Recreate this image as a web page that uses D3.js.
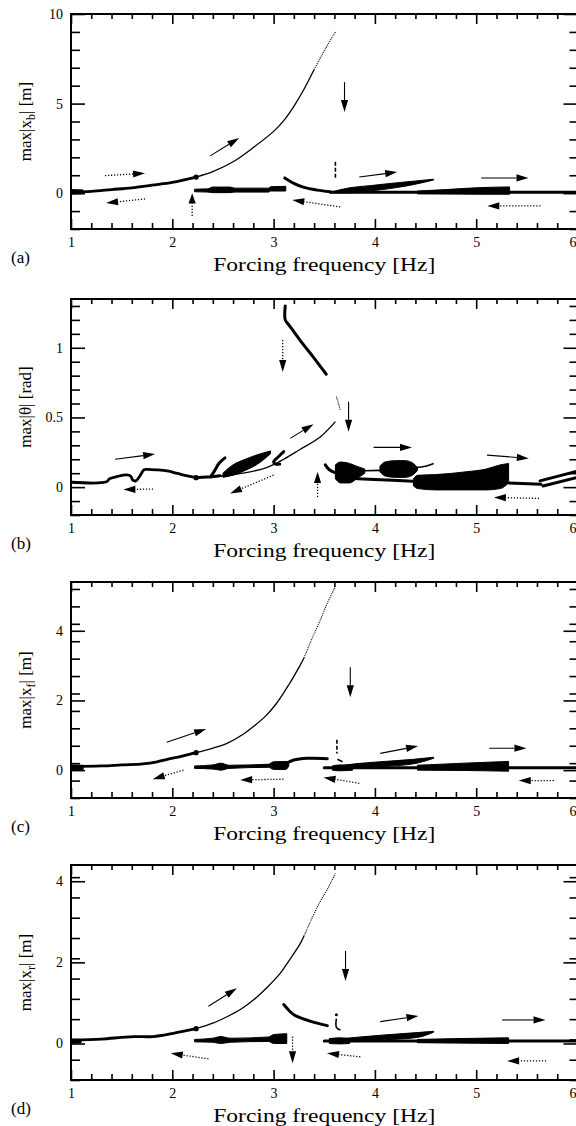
<!DOCTYPE html>
<html>
<head>
<meta charset="utf-8">
<script src="https://cdn.jsdelivr.net/npm/d3@7"></script>
<style>
  html, body { margin: 0; padding: 0; background: #fff; }
  svg { display: block; }
  text { font-family: "Liberation Serif", "Times New Roman", Times, serif; }
</style>
</head>
<body>
<svg id="chart" width="576" height="1126"></svg>
<script>
const SERIF = '"Liberation Serif", "Times New Roman", Times, serif';

// ─── shared x axis ────────────────────────────────────────────────────────────
const freqMajor = [1, 2, 3, 4, 5, 6];
const freqMinorStep = 0.2;
const xLabel = 'Forcing  frequency  [Hz]';

// ─── (a) max|x_b| [m] ─────────────────────────────────────────────────────────
const aTicks     = [0, 5, 10];
const aResLow    = [[1.0,0.05],[1.2,0.1],[1.4,0.2],[1.6,0.3],[1.8,0.45],[2.0,0.6],[2.235,0.9]];
const aResHigh   = [[2.235,0.9],[2.4,1.2],[2.6,1.75],[2.8,2.55],[3.0,3.45],[3.1,4.05],[3.2,4.85],[3.3,5.8],[3.4,6.9]];
const aResUnst   = [[3.4,6.9],[3.5,7.95],[3.61,9.0]];
const aUpper     = [[3.11,0.85],[3.2,0.55],[3.3,0.32],[3.43,0.17],[3.56,0.08]];
const aBase      = [[3.56,0.05],[6.0,0.05]];
const aStartBand = [[1.0,-0.05,0.2],[1.12,-0.03,0.18]];
const aLowBand   = [[2.22,0.08,0.22],[2.35,0.06,0.24],[2.4,0.03,0.34],[2.57,0.03,0.34],[2.62,0.06,0.28],[2.95,0.06,0.28],[2.97,0.12,0.36],[3.12,0.12,0.38]];
const aWedge     = [[3.58,0.02,0.08],[3.75,0.02,0.3],[3.95,0.12,0.42],[4.2,0.3,0.57],[4.4,0.5,0.68],[4.58,0.74,0.78]];
const aBand      = [[4.42,-0.04,0.12],[4.7,-0.05,0.2],[5.0,-0.06,0.3],[5.33,-0.06,0.35]];
const aSpike     = [[3.61,1.75],[3.61,0.75]];
const aFwd = [[2.374,2.08,2.66,3.08],[3.70,6.2,3.70,4.53],[3.846,0.9,4.22,1.18],[5.05,0.85,5.516,0.85]];
const aBwd = [[1.336,0.98,1.731,1.11],[1.731,-0.32,1.346,-0.55],[2.196,-1.27,2.196,0.0],[3.658,-0.77,3.184,-0.38],[5.634,-0.71,5.11,-0.71]];

// ─── (b) max|θ| [rad] ─────────────────────────────────────────────────────────
const bTicks   = [0, 0.5, 1];
const bPath    = [[1.0,0.035],[1.35,0.038],[1.38,0.06],[1.45,0.075],[1.55,0.088],[1.59,0.078],[1.61,0.05],[1.64,0.045],[1.68,0.08],[1.72,0.125],[1.75,0.128],[1.85,0.124],[1.95,0.116],[2.05,0.098],[2.15,0.08],[2.235,0.068]];
const bPath2   = [[2.235,0.068],[2.34,0.072],[2.47,0.082]];
const bResHigh = [[2.235,0.068],[2.47,0.078],[2.7,0.1],[2.93,0.14],[3.1,0.2],[3.26,0.27],[3.46,0.36],[3.61,0.47]];
const bResUnst = [[3.62,0.65],[3.64,0.6],[3.66,0.55]];
const bHook1   = [[2.38,0.075],[2.42,0.12],[2.46,0.17],[2.52,0.21]];
const bWedge   = [[2.5,0.07,0.1],[2.6,0.086,0.16],[2.72,0.12,0.2],[2.83,0.16,0.23],[2.97,0.24,0.26]];
const bHook2   = [[3.1,0.255],[3.05,0.22],[3.0,0.18],[3.02,0.165],[3.06,0.165]];
const bUpper   = [[3.115,1.3],[3.115,1.2],[3.15,1.165],[3.26,1.055],[3.39,0.935],[3.52,0.81]];
const bLead    = [[3.51,0.16],[3.55,0.125],[3.62,0.1]];
const bBlob1   = [[3.61,0.06,0.16],[3.66,0.03,0.18],[3.75,0.03,0.17],[3.82,0.06,0.15],[3.9,0.1,0.13]];
const bLink    = [[3.9,0.118],[4.05,0.12]];
const bBlob2   = [[4.05,0.11,0.15],[4.1,0.08,0.18],[4.2,0.07,0.19],[4.3,0.07,0.19],[4.38,0.09,0.17],[4.42,0.12,0.14]];
const bTail    = [[4.4,0.14],[4.5,0.15],[4.58,0.17]];
const bFloor   = [[3.7,0.065],[4.0,0.055],[4.42,0.04]];
const bBand    = [[4.38,0.01,0.06],[4.42,-0.01,0.085],[4.6,-0.02,0.09],[4.9,-0.02,0.11],[5.1,-0.02,0.13],[5.24,-0.01,0.16],[5.32,0.03,0.17]];
const bTrail   = [[5.32,0.03],[5.64,0.02]];
const bRise1   = [[5.63,0.045],[6.0,0.115]];
const bRise2   = [[5.66,0.008],[6.0,0.07]];
const bFwd = [[1.435,0.2,1.83,0.237],[3.164,0.35,3.394,0.452],[3.74,0.612,3.74,0.397],[3.987,0.285,4.366,0.285],[5.107,0.23,5.519,0.206]];
const bBwd = [[1.81,-0.014,1.517,-0.017],[3.09,1.055,3.09,0.827],[3.0,0.086,2.57,-0.045],[3.434,-0.07,3.434,0.11],[5.62,-0.081,5.175,-0.074]];

// ─── (c) max|x_f| [m] ─────────────────────────────────────────────────────────
const cTicks     = [0, 2, 4];
const cResLow    = [[1.0,0.1],[1.3,0.12],[1.5,0.15],[1.71,0.18],[1.85,0.24],[1.95,0.31],[2.1,0.4],[2.235,0.5]];
const cResHigh   = [[2.235,0.5],[2.4,0.63],[2.54,0.77],[2.7,1.03],[2.8,1.25],[2.92,1.55],[3.03,1.92],[3.15,2.45],[3.26,3.0],[3.3,3.22]];
const cResUnst   = [[3.3,3.22],[3.39,3.85],[3.46,4.3],[3.53,4.79],[3.61,5.27]];
const cStartBand = [[1.0,0.0,0.15],[1.12,0.02,0.14]];
const cLowBand   = [[2.22,0.05,0.12],[2.4,0.03,0.15],[2.48,0.0,0.2],[2.56,0.05,0.14],[2.95,0.08,0.17],[3.0,0.02,0.24],[3.12,0.02,0.25],[3.15,0.12,0.22]];
const cRise      = [[3.13,0.2],[3.2,0.29],[3.33,0.34],[3.53,0.33]];
const cSpike     = [[3.625,0.87],[3.625,0.48]];
const cDash      = [[3.63,0.31],[3.68,0.24]];
const cBase      = [[3.5,0.07],[6.0,0.07]];
const cBlob      = [[3.58,0.0,0.12],[3.65,-0.02,0.15],[3.78,0.0,0.13]];
const cWedge     = [[3.6,0.05,0.1],[3.8,0.05,0.18],[4.05,0.1,0.24],[4.38,0.18,0.31],[4.58,0.34,0.37]];
const cBand      = [[4.42,0.0,0.14],[4.88,-0.01,0.2],[5.32,-0.03,0.25]];
const cFwd = [[1.945,0.8,2.334,1.18],[3.757,2.95,3.757,2.09],[4.053,0.48,4.426,0.69],[5.13,0.63,5.496,0.63]];
const cBwd = [[2.11,0.0,1.807,-0.26],[3.098,-0.26,2.67,-0.28],[3.846,-0.38,3.493,-0.21],[5.766,-0.3,5.42,-0.3]];

// ─── (d) max|x_r| [m] ─────────────────────────────────────────────────────────
const dTicks     = [0, 2, 4];
const dResLow    = [[1.0,0.09],[1.3,0.11],[1.5,0.15],[1.62,0.17],[1.81,0.17],[2.01,0.25],[2.235,0.365]];
const dResHigh   = [[2.235,0.365],[2.4,0.5],[2.54,0.66],[2.68,0.85],[2.8,1.07],[2.93,1.37],[3.065,1.73],[3.16,2.07],[3.26,2.45],[3.3,2.65]];
const dResUnst   = [[3.3,2.65],[3.39,3.15],[3.46,3.5],[3.53,3.8],[3.61,4.19]];
const dStartBand = [[1.0,0.0,0.1],[1.1,0.02,0.1]];
const dLowBand   = [[2.22,0.04,0.1],[2.4,0.03,0.13],[2.48,0.0,0.17],[2.57,0.03,0.13],[2.95,0.05,0.16],[3.0,0.0,0.22],[3.13,0.0,0.24]];
const dUpper     = [[3.1,0.96],[3.15,0.82],[3.2,0.71],[3.36,0.55],[3.53,0.44]];
const dSpike     = [[3.62,0.61],[3.62,0.4],[3.66,0.33]];
const dSpikeDot  = [[3.62,0.71]];
const dBase      = [[3.5,0.06],[6.0,0.06]];
const dBlob      = [[3.55,0.0,0.12],[3.65,-0.01,0.14],[3.75,0.0,0.12]];
const dWedge     = [[3.6,0.04,0.1],[3.85,0.05,0.16],[4.09,0.09,0.21],[4.42,0.15,0.27],[4.58,0.28,0.3]];
const dBand      = [[4.42,0.02,0.1],[4.8,0.01,0.12],[5.32,0.0,0.14]];
const dFwd = [[2.357,0.92,2.637,1.36],[3.71,2.28,3.71,1.54],[4.053,0.54,4.43,0.68],[5.256,0.58,5.684,0.58]];
const dBwd = [[2.357,-0.38,1.985,-0.24],[3.187,0.17,3.187,-0.49],[3.856,-0.33,3.527,-0.24],[5.69,-0.43,5.305,-0.43]];

// ─── layout table built from the arrays ───────────────────────────────────────
const X_LEFT = 71, X_RIGHT = 577.5, VIEW_W = 576;
const panels = [
  { tag: '(a)', top: 14,  bottom: 229,  yDomain: [-2, 10],    yMajor: aTicks, yStep: 1,
    yLabel: ['max|x', 'b', '|  [m]'],
    resLow: aResLow, resHigh: aResHigh, resUnst: aResUnst,
    thick: [aUpper, aBase], medium: [], bands: [aStartBand, aLowBand, aWedge, aBand],
    spikes: [aSpike], dots: [], fwd: aFwd, bwd: aBwd },
  { tag: '(b)', top: 299, bottom: 515,  yDomain: [-0.2, 1.35], yMajor: bTicks, yStep: 0.1,
    yLabel: ['max|θ|  [rad]'],
    resLow: bPath, resHigh: bResHigh, resUnst: bResUnst,
    thick: [bPath2, bHook1, bHook2, bUpper, bLead, bFloor, bTrail, bRise1, bRise2], medium: [bLink, bTail],
    bands: [bWedge, bBlob1, bBlob2, bBand],
    spikes: [], dots: [], fwd: bFwd, bwd: bBwd },
  { tag: '(c)', top: 582, bottom: 798,  yDomain: [-0.8, 5.4], yMajor: cTicks, yStep: 0.5,
    yLabel: ['max|x', 'f', '|  [m]'],
    resLow: cResLow, resHigh: cResHigh, resUnst: cResUnst,
    thick: [cRise, cBase], medium: [cDash], bands: [cStartBand, cLowBand, cBlob, cWedge, cBand],
    spikes: [cSpike], dots: [], fwd: cFwd, bwd: cBwd },
  { tag: '(d)', top: 865, bottom: 1080, yDomain: [-0.9, 4.4], yMajor: dTicks, yStep: 0.5,
    yLabel: ['max|x', 'r', '|  [m]'],
    resLow: dResLow, resHigh: dResHigh, resUnst: dResUnst,
    thick: [dUpper, dBase], medium: [dSpike], bands: [dStartBand, dLowBand, dBlob, dWedge, dBand],
    spikes: [], dots: dSpikeDot, fwd: dFwd, bwd: dBwd }
];

const svg = d3.select('#chart');
const x = d3.scaleLinear().domain([1, 6]).range([X_LEFT, X_RIGHT]);
const round3 = v => Math.round(v * 1000) / 1000;
const xMinor = d3.range(1, 6.0001, freqMinorStep).map(round3).filter(v => !freqMajor.includes(v));

function drawArrow(g, x1, y1, x2, y2, dotted) {
  const dx = x2 - x1, dy = y2 - y1, L = Math.hypot(dx, dy);
  const ux = dx / L, uy = dy / L;
  const hl = Math.min(12, L * 0.45), hw = 3.6;
  const bx = x2 - ux * hl, by = y2 - uy * hl;
  g.append('line')
    .attr('x1', x1).attr('y1', y1).attr('x2', bx).attr('y2', by)
    .attr('stroke', '#000').attr('stroke-width', dotted ? 1.3 : 1.1)
    .attr('stroke-dasharray', dotted ? '1.2,1.8' : null);
  g.append('path')
    .attr('d', `M${x2},${y2}L${bx - uy * hw},${by + ux * hw}L${bx + uy * hw},${by - ux * hw}Z`)
    .attr('fill', '#000');
}

panels.forEach((p, i) => {
  const y = d3.scaleLinear().domain(p.yDomain).range([p.bottom, p.top]);
  const yMinor = d3.range(p.yDomain[0], p.yDomain[1] + 1e-6, p.yStep).map(round3)
    .filter(v => !p.yMajor.includes(v));
  const g = svg.append('g').attr('class', 'panel');

  const clipId = 'clip-' + i;
  g.append('clipPath').attr('id', clipId).append('rect')
    .attr('x', X_LEFT).attr('y', p.top).attr('width', X_RIGHT - X_LEFT).attr('height', p.bottom - p.top);
  const plot = g.append('g').attr('clip-path', `url(#${clipId})`);

  const line = d3.line().x(d => x(d[0])).y(d => y(d[1])).curve(d3.curveCatmullRom);
  const area = d3.area().x(d => x(d[0])).y0(d => y(d[1])).y1(d => y(d[2])).curve(d3.curveMonotoneX);

  // filled bands of dense maxima
  p.bands.forEach(b => plot.append('path').attr('d', area(b)).attr('fill', '#000')
    .attr('stroke', '#000').attr('stroke-width', 1).attr('stroke-linejoin', 'round'));

  // resonance branch: thick stable part, thin part, dotted tail
  plot.append('path').attr('d', line(p.resLow)).attr('fill', 'none')
    .attr('stroke', '#000').attr('stroke-width', 2.8).attr('stroke-linecap', 'round');
  plot.append('path').attr('d', line(p.resHigh)).attr('fill', 'none')
    .attr('stroke', '#000').attr('stroke-width', 1.3);
  plot.append('path').attr('d', line(p.resUnst)).attr('fill', 'none')
    .attr('stroke', '#000').attr('stroke-width', 1.2).attr('stroke-dasharray', '1,1.1');
  const bif = p.resLow[p.resLow.length - 1];
  plot.append('circle').attr('cx', x(bif[0])).attr('cy', y(bif[1])).attr('r', 2.6).attr('fill', '#000');

  p.thick.forEach(s => plot.append('path').attr('d', line(s)).attr('fill', 'none')
    .attr('stroke', '#000').attr('stroke-width', 3).attr('stroke-linecap', 'round'));
  p.medium.forEach(s => plot.append('path').attr('d', line(s)).attr('fill', 'none')
    .attr('stroke', '#000').attr('stroke-width', 1.6));
  p.spikes.forEach(s => plot.append('path').attr('d', line(s)).attr('fill', 'none')
    .attr('stroke', '#000').attr('stroke-width', 1.6).attr('stroke-dasharray', '4,2'));
  p.dots.forEach(d => plot.append('circle').attr('cx', x(d[0])).attr('cy', y(d[1])).attr('r', 1.5).attr('fill', '#000'));

  // sweep arrows: solid = increasing frequency, dotted = decreasing
  p.fwd.forEach(a => drawArrow(plot, x(a[0]), y(a[1]), x(a[2]), y(a[3]), false));
  p.bwd.forEach(a => drawArrow(plot, x(a[0]), y(a[1]), x(a[2]), y(a[3]), true));

  // axes (inward ticks on all four sides)
  const styleAxis = sel => {
    sel.select('.domain').remove();
    sel.selectAll('line').attr('stroke-width', 1.6);
    sel.attr('font-family', SERIF).attr('font-size', 14);
  };
  const bottomAxis = g.append('g').attr('transform', `translate(0,${p.bottom})`)
    .call(d3.axisBottom(x).tickValues(freqMajor).tickSize(-10).tickSizeOuter(0).tickPadding(8).tickFormat(d3.format('d')))
    .call(styleAxis);
  // the last label sits on the page edge: keep it inside the view
  bottomAxis.selectAll('.tick text').filter(d => x(d) + 4 > VIEW_W)
    .attr('text-anchor', 'end').attr('x', VIEW_W - x(6));
  g.append('g').attr('transform', `translate(0,${p.bottom})`)
    .call(d3.axisBottom(x).tickValues(xMinor).tickSize(-6).tickSizeOuter(0).tickFormat(''))
    .call(styleAxis);
  g.append('g').attr('transform', `translate(0,${p.top})`)
    .call(d3.axisTop(x).tickValues(freqMajor).tickSize(-10).tickSizeOuter(0).tickFormat(''))
    .call(styleAxis);
  g.append('g').attr('transform', `translate(0,${p.top})`)
    .call(d3.axisTop(x).tickValues(xMinor).tickSize(-5).tickSizeOuter(0).tickFormat(''))
    .call(styleAxis);
  g.append('g').attr('transform', `translate(${X_LEFT},0)`)
    .call(d3.axisLeft(y).tickValues(p.yMajor).tickSize(-14).tickSizeOuter(0).tickPadding(8).tickFormat(d => String(d)))
    .call(styleAxis);
  g.append('g').attr('transform', `translate(${X_LEFT},0)`)
    .call(d3.axisLeft(y).tickValues(yMinor).tickSize(-9).tickSizeOuter(0).tickFormat(''))
    .call(styleAxis);
  g.append('g').attr('transform', `translate(${X_RIGHT},0)`)
    .call(d3.axisRight(y).tickValues(p.yMajor).tickSize(-14).tickSizeOuter(0).tickFormat(''))
    .call(styleAxis);
  g.append('g').attr('transform', `translate(${X_RIGHT},0)`)
    .call(d3.axisRight(y).tickValues(yMinor).tickSize(-8).tickSizeOuter(0).tickFormat(''))
    .call(styleAxis);

  g.append('rect').attr('x', X_LEFT).attr('y', p.top)
    .attr('width', X_RIGHT - X_LEFT).attr('height', p.bottom - p.top)
    .attr('fill', 'none').attr('stroke', '#000').attr('stroke-width', 2);

  // y label
  const yl = g.append('text')
    .attr('transform', `translate(31,${(p.top + p.bottom) / 2}) rotate(-90)`)
    .attr('text-anchor', 'middle').attr('font-family', SERIF).attr('font-size', 17);
  yl.append('tspan').text(p.yLabel[0]);
  if (p.yLabel.length > 1) {
    yl.append('tspan').attr('dy', 4).attr('font-size', 12).text(p.yLabel[1]);
    yl.append('tspan').attr('dy', -4).text(p.yLabel[2]);
  }

  // x label and panel tag
  g.append('text').attr('x', (X_LEFT + X_RIGHT) / 2).attr('y', p.bottom + 42)
    .attr('text-anchor', 'middle').attr('font-family', SERIF).attr('font-size', 18)
    .attr('textLength', 222).attr('lengthAdjust', 'spacingAndGlyphs')
    .text(xLabel);
  g.append('text').attr('x', 11).attr('y', p.bottom + 34)
    .attr('font-family', SERIF).attr('font-size', 17).text(p.tag);
});
</script>
</body>
</html>
